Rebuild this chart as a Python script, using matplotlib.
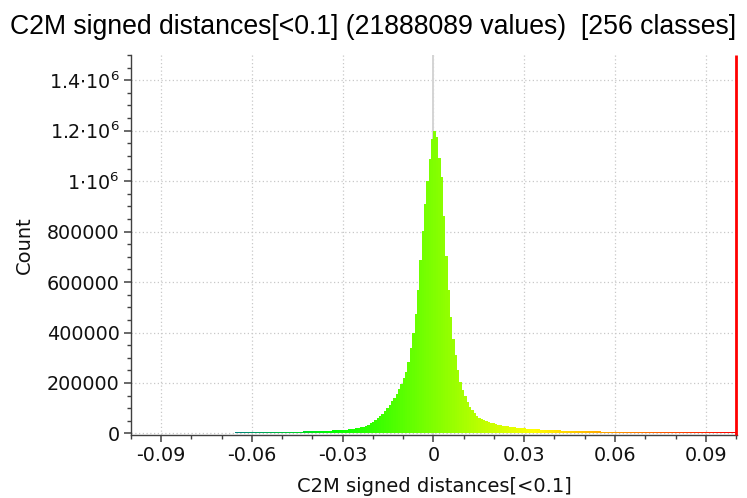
import matplotlib
matplotlib.use("Agg")
import matplotlib.pyplot as plt
import numpy as np
from matplotlib.colors import LinearSegmentedColormap
from matplotlib.ticker import MultipleLocator, FuncFormatter

# Histogram of C2M signed distances, 256 classes over [-0.1, 0.1]
range_min = -0.1
range_max = 0.1
n_classes = 256
n_values = 21888089
sf_name = "C2M signed distances[<0.1]"

# counts per class, negative half (classes 0..127)
counts_neg = [
    300, 360, 420, 480, 540, 600, 660, 720, 790, 850,
    920, 990, 1060, 1130, 1200, 1280, 1360, 1440, 1520, 2200,
    2260, 2320, 2380, 2440, 2500, 2560, 2620, 2680, 2740, 2800,
    2860, 2920, 2980, 3040, 3100, 3160, 3220, 3280, 3340, 3400,
    3470, 3540, 3610, 3680, 3750, 3820, 3890, 3960, 4030, 4100,
    4180, 4260, 4340, 4420, 4500, 4580, 4670, 4760, 4850, 4950,
    5050, 5220, 5410, 5610, 5810, 6020, 6230, 6450, 6670, 6900,
    7130, 7370, 7620, 7880, 8150, 8430, 8720, 9020, 9330, 9650,
    9990, 10350, 10730, 11130, 11550, 12000, 12480, 13000, 13560, 14160,
    14800, 15500, 16300, 17300, 18500, 20000, 22000, 24500, 27500, 31000,
    35000, 40000, 46000, 53000, 60000, 68000, 77000, 88000, 100000, 113000,
    127000, 142000, 158000, 176000, 196000, 218000, 244000, 285000, 337000, 400000,
    475000, 570000, 686000, 804000, 910000, 1002000, 1088000, 1167000,
]

# counts per class, positive half (classes 128..255)
counts_pos = [
    1200000, 1176000, 1090000, 1015000, 860000, 705000, 567000, 462000, 376000, 310000,
    251000, 205000, 172000,
    148000, 125000, 106000, 92000, 80000, 70000, 63000, 57000, 52000, 48000,
    45000, 42000, 39500, 37000, 35000, 33000, 31000, 29500, 28000, 26500,
    25000, 24000, 23000, 22000, 21000, 20000, 19000, 18300, 17600, 17000,
    16300, 15700, 15100, 14500, 14000, 13500, 13100, 12700, 12300, 12000,
    11700, 11400, 11100, 10800, 10500,
    10200, 10000, 9700, 9500, 9200, 9000, 8800, 8600, 8400, 8200,
    8000, 7850, 7700, 7550, 7400, 7250, 7100, 6950, 6800, 6650,
    6500, 6400, 6300, 6200, 6100, 6000, 5900, 5800, 5700, 5600,
    5550, 5500, 5450, 5400, 5350, 5300, 5250, 5200, 5150, 5100,
    5050, 5000, 4950, 4900, 4850, 4800, 4780, 4760, 4740, 4720,
    4700, 4680, 4660, 4640, 4620, 4600, 4580, 4560, 4540, 4520,
    4500, 4480, 4460, 4440, 4420, 4400, 4380, 4360, 4340, 4300,
]

counts = np.array(counts_neg + counts_pos, dtype=float)
edges = np.linspace(range_min, range_max, n_classes + 1)
width = edges[1] - edges[0]
centers = edges[:-1] + width / 2

# blue-green-yellow-red colour scale
bgyr = LinearSegmentedColormap.from_list("bgyr", ["#0000ff", "#00ff00", "#ffff00", "#ff0000"])
bar_colors = bgyr((centers - range_min) / (range_max - range_min))

fig = plt.figure(figsize=(7.47, 4.98), dpi=100)
ax = fig.add_axes([0.1751, 0.1271, 0.8115, 0.7625])

grid_kw = dict(color="#c8c8c8", linestyle=(0, (1, 2)), linewidth=0.9)
ax.grid(True, which="major", axis="both", zorder=0, **grid_kw)
ax.set_axisbelow(True)

ax.axvline(0, color="#d4d4d4", linewidth=1.4, zorder=1)

ax.bar(edges[:-1], counts, width=width, align="edge", color=bar_colors,
       linewidth=0, antialiased=False, zorder=2)

ax.set_xlim(range_min, range_max + 0.0003)
ax.set_ylim(-5000, 1.5e6)

# display-range marker at the upper bound
ax.plot([range_max, range_max], [-5000, 1.5e6], color="#ff0000", linewidth=2.0,
        solid_capstyle="butt", zorder=5, clip_on=False)

ax.xaxis.set_major_locator(MultipleLocator(0.03))
ax.xaxis.set_minor_locator(MultipleLocator(0.01))
ax.yaxis.set_major_locator(MultipleLocator(200000))
ax.yaxis.set_minor_locator(MultipleLocator(50000))


def fmt_x(v, pos):
    v = round(v, 2)
    if v == 0:
        return "0"
    return f"{v:g}"


def fmt_y(v, pos):
    if v >= 1e6:
        m = round(v / 1e6, 1)
        ms = f"{m:g}"
        return r"$\mathregular{" + ms + r"{\cdot}10^{6}}$"
    return f"{int(round(v))}"


ax.xaxis.set_major_formatter(FuncFormatter(fmt_x))
ax.yaxis.set_major_formatter(FuncFormatter(fmt_y))

for s in ("top", "right"):
    ax.spines[s].set_visible(False)
for s in ("left", "bottom"):
    ax.spines[s].set_color("#404040")
    ax.spines[s].set_linewidth(1.0)

ax.tick_params(which="major", direction="out", length=5, width=1.1, color="#404040",
               labelsize=13.8, labelcolor="#111111", pad=3)
ax.tick_params(which="minor", direction="out", length=3, width=1.0, color="#404040")

ax.set_xlabel(sf_name, fontsize=14, color="#111111", labelpad=9)
ax.set_ylabel("Count", fontsize=14, color="#111111", labelpad=9)

fig.text(0.5, 0.945, f"{sf_name} ({n_values} values)  [{n_classes} classes]",
         ha="center", va="center", fontsize=19.2, family="Liberation Sans", color="black")

fig.savefig("out.png", dpi=100)
